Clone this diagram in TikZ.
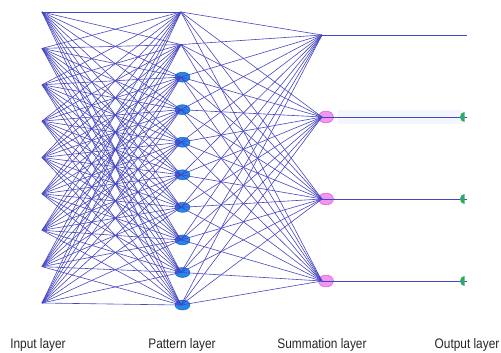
\documentclass[tikz,border=0pt]{standalone}
\usepackage{fontspec}
\setmainfont{Liberation Sans}
\newfontfamily\narrowfont[FakeStretch=0.86]{Liberation Sans}
\usetikzlibrary{shapes.geometric}
\definecolor{linkblue}{RGB}{70,70,195}
\definecolor{patblue}{RGB}{35,135,235}
\definecolor{patedge}{RGB}{25,85,190}
\definecolor{sumpink}{RGB}{240,150,240}
\definecolor{sumedge}{RGB}{205,80,205}
\definecolor{outgreen}{RGB}{45,170,105}
\definecolor{bandblue}{RGB}{243,247,253}
\begin{document}
\begin{tikzpicture}[x=1pt,y=-1pt,
  link/.style={draw=linkblue, line width=0.6pt},
  patnode/.style={ellipse, fill=patblue, draw=patedge, line width=0.4pt, minimum width=15pt, minimum height=10pt, inner sep=0pt},
  sumnode/.style={ellipse, fill=sumpink, draw=sumedge, line width=0.4pt, minimum width=15pt, minimum height=12pt, inner sep=0pt},
  lbl/.style={font=\narrowfont\fontsize{13.8}{15}\selectfont, text=black!85, anchor=base}]
\useasboundingbox (0,0) rectangle (501,353);
% faint band
\fill[bandblue] (338,110) rectangle (463,124);
% coordinates
\foreach \k in {1,...,9} \coordinate (i\k) at (42,{12+36.375*(\k-1)});
\foreach \k in {1,...,10} \coordinate (p\k) at (181,{12+32.56*(\k-1)});
\foreach \k/\y in {1/35,2/117,3/199,4/281} \coordinate (s\k) at (322,\y);
\foreach \k/\y in {1/35,2/117,3/199,4/281} \coordinate (o\k) at (467,\y);
% ellipses
\foreach \k in {3,...,10} \node[patnode] (pe\k) at ([xshift=1.5pt]p\k) {};
\foreach \k in {2,3,4} \node[sumnode] (se\k) at ([xshift=4pt]s\k) {};
% links
\foreach \a in {1,...,9} \foreach \b in {1,...,10} \draw[link] (i\a) -- (p\b);
\foreach \b in {1,...,10} \foreach \c in {1,...,4} \draw[link] (p\b) -- (s\c);
\foreach \c in {1,...,4} \draw[link] (s\c) -- (o\c);
% output markers
\foreach \c in {2,3,4} \fill[outgreen] ([xshift=-2.5pt]o\c) ++(0,5) arc[start angle=90, end angle=270, x radius=4.5, y radius=5] -- cycle;
% labels
\node[lbl] (lin) at (38,348) {Input layer};
\node[lbl] (lpat) at (182,348) {Pattern layer};
\node[lbl] (lsum) at (322,348) {Summation layer};
\node[lbl] (lout) at (467,348) {Output layer};
\end{tikzpicture}
\end{document}
